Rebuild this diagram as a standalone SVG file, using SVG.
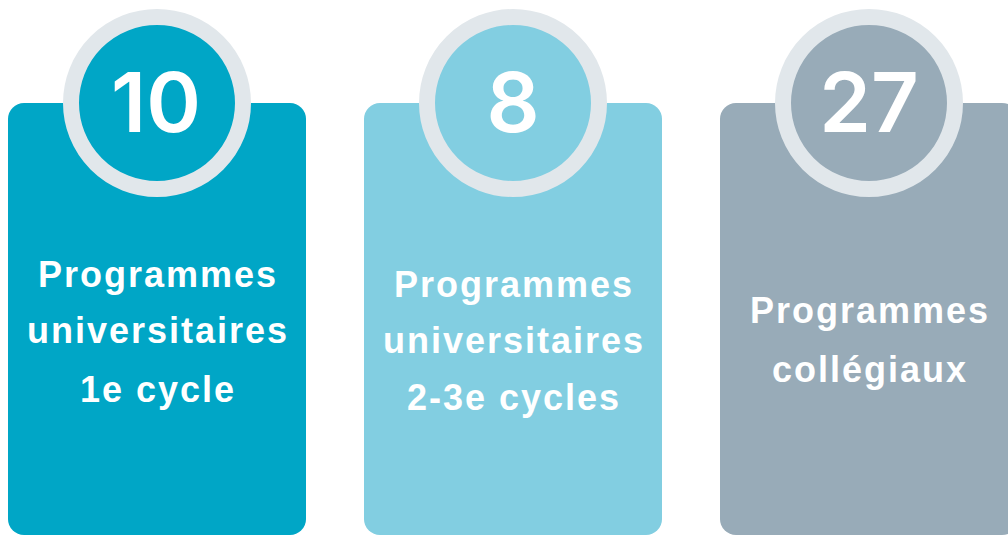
<svg xmlns="http://www.w3.org/2000/svg" width="1008" height="535" viewBox="0 0 1008 535">
<style>
.ring{stroke:#E1E7EB;stroke-width:16}
.num{font-family:Inter,"Open Sans","Liberation Sans",sans-serif;font-weight:600;font-size:83px;fill:#fff;text-anchor:middle}
.lbl{font-family:"Liberation Sans",Arial,sans-serif;font-weight:700;font-size:36px;letter-spacing:2px;fill:#fff;text-anchor:middle}
</style>
<rect width="1008" height="535" fill="#fff"/>
<g id="node-1">
<rect x="8" y="103" width="298" height="432" rx="16" fill="#00A6C6"/>
<circle cx="157" cy="103" r="86" fill="#00A6C6" class="ring"/>
<text class="num" x="156" y="132">10</text>
<text class="lbl" x="158" y="287">Programmes</text>
<text class="lbl" x="158" y="343">universitaires</text>
<text class="lbl" x="158" y="402">1e cycle</text>
</g>
<g id="node-2">
<rect x="364" y="103" width="298" height="432" rx="16" fill="#82CEE1"/>
<circle cx="513" cy="103" r="86" fill="#82CEE1" class="ring"/>
<text class="num" x="513" y="132">8</text>
<text class="lbl" x="514" y="297">Programmes</text>
<text class="lbl" x="514" y="353">universitaires</text>
<text class="lbl" x="514" y="410">2-3e cycles</text>
</g>
<g id="node-3">
<rect x="720" y="103" width="298" height="432" rx="16" fill="#98ABB8"/>
<circle cx="869" cy="103" r="86" fill="#98ABB8" class="ring"/>
<text class="num" x="869" y="132">27</text>
<text class="lbl" x="870" y="323">Programmes</text>
<text class="lbl" x="870" y="382">collégiaux</text>
</g>
<g id="connectors"/>
</svg>
